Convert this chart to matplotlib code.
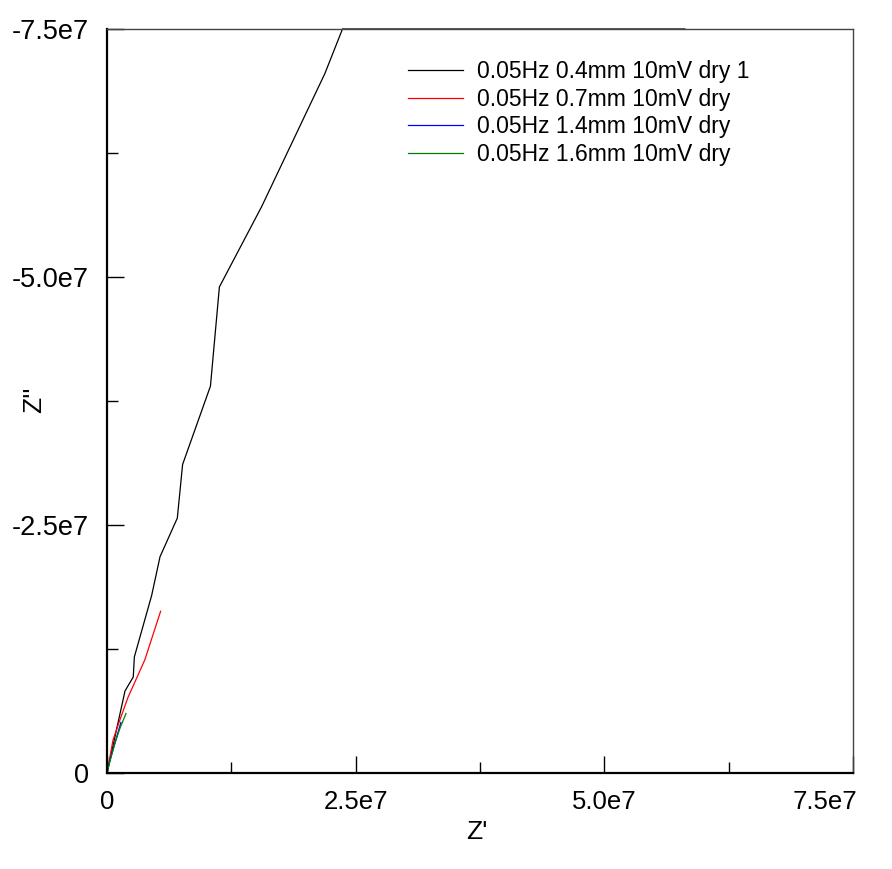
import numpy as np
import matplotlib
matplotlib.use("Agg")
import matplotlib.pyplot as plt
from matplotlib.transforms import ScaledTranslation

plt.rcParams['font.family'] = ['Liberation Sans', 'DejaVu Sans']

# ---- data (Z' , Z'') ----
labels = ["0.05Hz 0.4mm 10mV dry 1", "0.05Hz 0.7mm 10mV dry",
          "0.05Hz 1.4mm 10mV dry", "0.05Hz 1.6mm 10mV dry"]
colors = ["#000000", "#ff0000", "#0000ff", "#008000"]

z1_re = [0, 8.0e5, 1.81e6, 2.64e6, 2.75e6, 4.49e6, 5.33e6, 7.07e6, 7.60e6,
         1.04e7, 1.13e7, 1.555e7, 2.19e7, 2.9e7, 4.2e7, 5.81e7]
z1_im = [0, -3.66e6, -8.27e6, -9.68e6, -1.17e7, -1.79e7, -2.18e7, -2.57e7, -3.11e7,
         -3.90e7, -4.90e7, -5.71e7, -7.05e7, -8.85e7, -1.18e8, -1.55e8]

z2_re = [0, 6.0e5, 1.1e6, 2.1e6, 3.8e6, 5.39e6]
z2_im = [0, -3.3e6, -4.8e6, -7.6e6, -1.14e7, -1.63e7]

z3_re = [0, 2.5e5, 7.0e5, 1.4e6]
z3_im = [0, -1.1e6, -2.7e6, -5.1e6]

z4_re = [0, 3.0e5, 8.0e5, 1.3e6, 1.91e6]
z4_im = [0, -1.2e6, -3.0e6, -4.5e6, -6.0e6]

series = [(z1_re, z1_im), (z2_re, z2_im), (z3_re, z3_im), (z4_re, z4_im)]

xticks = [0, 2.5e7, 5.0e7, 7.5e7]
xticklabels = ["0", "2.5e7", "5.0e7", "7.5e7"]
yticks = [0, -2.5e7, -5.0e7, -7.5e7]
yticklabels = ["0", "-2.5e7", "-5.0e7", "-7.5e7"]

xmax = 7.5e7
ylim_top = -7.5e7


def clamp_to_top(x, y, lim):
    """Insert boundary crossings and project out-of-range parts onto the top edge."""
    xs, ys = [x[0]], [y[0]]
    for i in range(1, len(x)):
        x0, y0, x1, y1 = x[i - 1], y[i - 1], x[i], y[i]
        if (y0 - lim) * (y1 - lim) < 0:
            t = (lim - y0) / (y1 - y0)
            xs.append(x0 + t * (x1 - x0))
            ys.append(lim)
        xs.append(x1)
        ys.append(y1)
    xs = np.array(xs)
    ys = np.maximum(np.array(ys), lim)
    return xs, ys


fig = plt.figure(figsize=(8.92, 8.69), dpi=100)
ax = fig.add_axes([107 / 892, 1 - 773 / 869, 746 / 892, 744 / 869])

for (xr, yi), c, lab in zip(series, colors, labels):
    xs, ys = clamp_to_top(xr, yi, ylim_top)
    ax.plot(xs, ys, color=c, lw=0.9, label=lab, clip_on=False)

ax.set_xlim(0, xmax)
ax.set_ylim(0, ylim_top)

ax.set_xticks(xticks)
ax.set_xticklabels(xticklabels)
ax.set_xticks([1.25e7, 3.75e7, 6.25e7], minor=True)
ax.set_yticks(yticks)
ax.set_yticklabels(yticklabels)
ax.set_yticks([-1.25e7, -3.75e7, -6.25e7], minor=True)

ax.tick_params(which='both', direction='in', top=False, right=False,
               width=1.0, color='black')
ax.tick_params(axis='x', which='major', length=12, pad=12, labelsize=18.5)
ax.tick_params(axis='y', which='major', length=12, pad=13, labelsize=19.5)
ax.tick_params(which='minor', length=8)

# last x label sits inside the figure, right-aligned near the edge
lastlab = ax.get_xticklabels()[-1]
lastlab.set_horizontalalignment('right')
lastlab.set_transform(lastlab.get_transform() + ScaledTranslation(4 / 100, 0, fig.dpi_scale_trans))

for s in ['left', 'bottom']:
    ax.spines[s].set_linewidth(1.6)
    ax.spines[s].set_color('black')
for s in ['top', 'right']:
    ax.spines[s].set_linewidth(1.0)
    ax.spines[s].set_color('#444444')

ax.set_xlabel("Z'", fontsize=19)
ax.xaxis.set_label_coords((477 - 107) / 746, -(832 - 773) / 744)
ax.xaxis.label.set_verticalalignment('center')
ax.set_ylabel("Z''", fontsize=19)
ax.yaxis.set_label_coords(-(107 - 34) / 746, (773 - 400) / 744)
ax.yaxis.label.set_verticalalignment('center')

leg = fig.legend(loc='upper left', bbox_to_anchor=(408 / 892, 1 - 60 / 869),
                 frameon=False, fontsize=16.5, handlelength=2.4,
                 handletextpad=0.62, labelspacing=0.2, borderpad=0,
                 borderaxespad=0)

fig.savefig("out.png", dpi=100)
